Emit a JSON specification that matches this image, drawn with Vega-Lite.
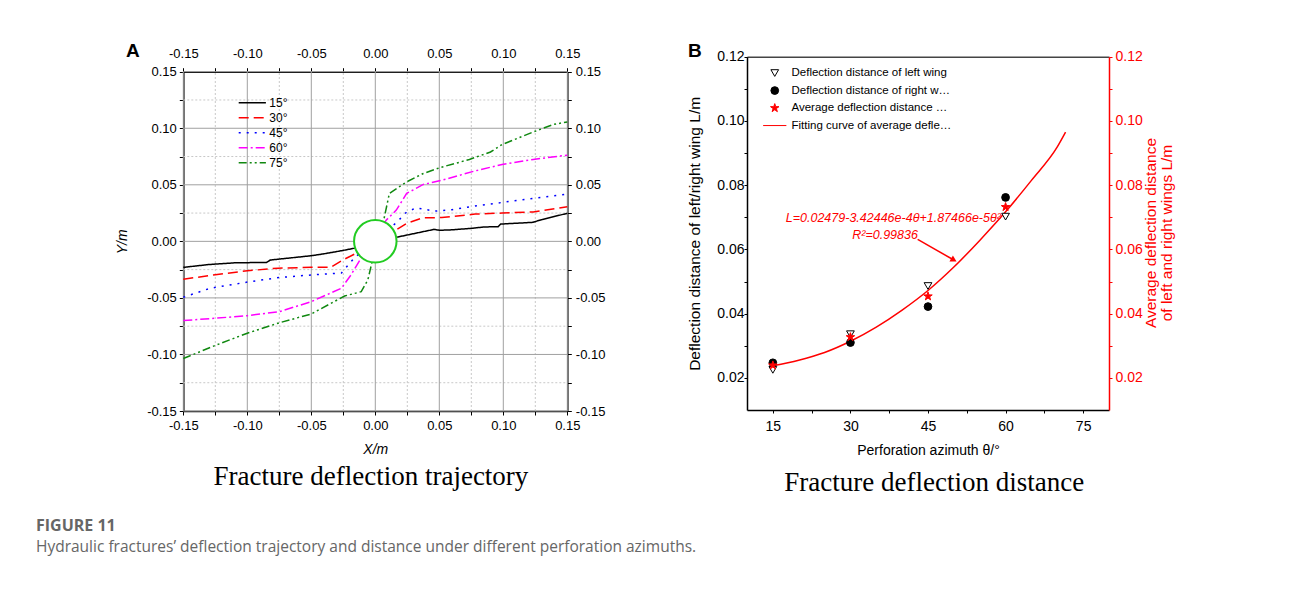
{
 "$schema": "https://vega.github.io/schema/vega-lite/v6.json",
 "background": "white",
 "width": 1290,
 "height": 592,
 "padding": 0,
 "autosize": {"type": "none"},
 "config": {
  "font": "Liberation Sans",
  "view": {"stroke": null},
  "axis": {"labelFont": "Liberation Sans", "titleFont": "Liberation Sans", "labelColor": "black", "titleColor": "black", "titleFontWeight": "normal", "labelFlush": false, "labelOverlap": false},
  "legend": {"labelFont": "Liberation Sans", "labelColor": "black"}
 },
 "datasets": {
  "gridA": [
   {"v": -0.15, "kind": "major"}, {"v": -0.125, "kind": "minor"}, {"v": -0.1, "kind": "major"}, {"v": -0.075, "kind": "minor"}, {"v": -0.05, "kind": "major"}, {"v": -0.025, "kind": "minor"}, {"v": 0, "kind": "major"}, {"v": 0.025, "kind": "minor"}, {"v": 0.05, "kind": "major"}, {"v": 0.075, "kind": "minor"}, {"v": 0.1, "kind": "major"}, {"v": 0.125, "kind": "minor"}, {"v": 0.15, "kind": "major"}
  ]
 },
 "layer": [
  {
   "layer": [
    {
     "data": {"name": "gridA"},
     "transform": [{"filter": {"field": "kind", "equal": "minor"}}],
     "mark": {"type": "rule", "color": "#c8c8c8", "strokeWidth": 1, "strokeDash": [2, 2]},
     "encoding": {
      "x": {"field": "v", "type": "quantitative", "scale": {"domain": [-0.15, 0.15], "range": [183.3, 567.3], "nice": false, "zero": false}, "axis": null},
      "y": {"datum": -0.15, "type": "quantitative", "scale": {"domain": [-0.15, 0.15], "range": [411, 71.7], "nice": false, "zero": false}, "axis": null},
      "y2": {"datum": 0.15}
     }
    },
    {
     "data": {"name": "gridA"},
     "transform": [{"filter": {"field": "kind", "equal": "minor"}}],
     "mark": {"type": "rule", "color": "#c8c8c8", "strokeWidth": 1, "strokeDash": [2, 2]},
     "encoding": {
      "y": {"field": "v", "type": "quantitative", "axis": null},
      "x": {"datum": -0.15, "type": "quantitative", "axis": null},
      "x2": {"datum": 0.15}
     }
    },
    {
     "data": {"name": "gridA"},
     "transform": [{"filter": {"field": "kind", "equal": "major"}}],
     "mark": {"type": "rule", "color": "#a0a0a0", "strokeWidth": 1},
     "encoding": {
      "x": {"field": "v", "type": "quantitative", "axis": null},
      "y": {"datum": -0.15, "type": "quantitative", "axis": null},
      "y2": {"datum": 0.15}
     }
    },
    {
     "data": {"name": "gridA"},
     "transform": [{"filter": {"field": "kind", "equal": "major"}}],
     "mark": {"type": "rule", "color": "#a0a0a0", "strokeWidth": 1},
     "encoding": {
      "y": {"field": "v", "type": "quantitative", "axis": null},
      "x": {"datum": -0.15, "type": "quantitative", "axis": null},
      "x2": {"datum": 0.15}
     }
    },
    {
     "data": {"values": [
      {"x": -0.15, "y": -0.023, "angle": "15°"}, {"x": -0.13, "y": -0.0205, "angle": "15°"}, {"x": -0.11, "y": -0.019, "angle": "15°"}, {"x": -0.085, "y": -0.0186, "angle": "15°"}, {"x": -0.082, "y": -0.0165, "angle": "15°"}, {"x": -0.065, "y": -0.0145, "angle": "15°"}, {"x": -0.05, "y": -0.0127, "angle": "15°"}, {"x": -0.04, "y": -0.011, "angle": "15°"}, {"x": -0.025, "y": -0.008, "angle": "15°"}, {"x": -0.013, "y": -0.0053, "angle": "15°"}, {"x": 0.016, "y": 0.0035, "angle": "15°"}, {"x": 0.03, "y": 0.0068, "angle": "15°"}, {"x": 0.046, "y": 0.0106, "angle": "15°"}, {"x": 0.05, "y": 0.0098, "angle": "15°"}, {"x": 0.06, "y": 0.0102, "angle": "15°"}, {"x": 0.075, "y": 0.0115, "angle": "15°"}, {"x": 0.085, "y": 0.0127, "angle": "15°"}, {"x": 0.096, "y": 0.013, "angle": "15°"}, {"x": 0.098, "y": 0.0153, "angle": "15°"}, {"x": 0.11, "y": 0.016, "angle": "15°"}, {"x": 0.123, "y": 0.0168, "angle": "15°"}, {"x": 0.13, "y": 0.0192, "angle": "15°"}, {"x": 0.15, "y": 0.0248, "angle": "15°"},
      {"x": -0.15, "y": -0.0335, "angle": "30°"}, {"x": -0.125, "y": -0.0295, "angle": "30°"}, {"x": -0.1, "y": -0.026, "angle": "30°"}, {"x": -0.076, "y": -0.0237, "angle": "30°"}, {"x": -0.05, "y": -0.023, "angle": "30°"}, {"x": -0.035, "y": -0.023, "angle": "30°"}, {"x": -0.0245, "y": -0.016, "angle": "30°"}, {"x": -0.014, "y": -0.01, "angle": "30°"}, {"x": 0.016, "y": 0.01, "angle": "30°"}, {"x": 0.0245, "y": 0.0159, "angle": "30°"}, {"x": 0.0375, "y": 0.0209, "angle": "30°"}, {"x": 0.052, "y": 0.021, "angle": "30°"}, {"x": 0.078, "y": 0.0241, "angle": "30°"}, {"x": 0.099, "y": 0.025, "angle": "30°"}, {"x": 0.1234, "y": 0.026, "angle": "30°"}, {"x": 0.15, "y": 0.0305, "angle": "30°"},
      {"x": -0.15, "y": -0.0494, "angle": "45°"}, {"x": -0.129, "y": -0.0415, "angle": "45°"}, {"x": -0.1, "y": -0.036, "angle": "45°"}, {"x": -0.075, "y": -0.032, "angle": "45°"}, {"x": -0.05, "y": -0.0297, "angle": "45°"}, {"x": -0.0265, "y": -0.028, "angle": "45°"}, {"x": -0.0156, "y": -0.0136, "angle": "45°"}, {"x": -0.008, "y": -0.0075, "angle": "45°"}, {"x": 0.008, "y": 0.0095, "angle": "45°"}, {"x": 0.016, "y": 0.016, "angle": "45°"}, {"x": 0.0245, "y": 0.026, "angle": "45°"}, {"x": 0.032, "y": 0.0296, "angle": "45°"}, {"x": 0.0465, "y": 0.0267, "angle": "45°"}, {"x": 0.06, "y": 0.028, "angle": "45°"}, {"x": 0.0735, "y": 0.0305, "angle": "45°"}, {"x": 0.099, "y": 0.0344, "angle": "45°"}, {"x": 0.1234, "y": 0.038, "angle": "45°"}, {"x": 0.15, "y": 0.0417, "angle": "45°"},
      {"x": -0.15, "y": -0.07, "angle": "60°"}, {"x": -0.125, "y": -0.068, "angle": "60°"}, {"x": -0.1, "y": -0.0657, "angle": "60°"}, {"x": -0.075, "y": -0.0622, "angle": "60°"}, {"x": -0.05, "y": -0.0533, "angle": "60°"}, {"x": -0.0265, "y": -0.0415, "angle": "60°"}, {"x": -0.019, "y": -0.0297, "angle": "60°"}, {"x": -0.0112, "y": -0.015, "angle": "60°"}, {"x": 0.0086, "y": 0.0188, "angle": "60°"}, {"x": 0.0164, "y": 0.0276, "angle": "60°"}, {"x": 0.0245, "y": 0.0424, "angle": "60°"}, {"x": 0.0375, "y": 0.0503, "angle": "60°"}, {"x": 0.052, "y": 0.054, "angle": "60°"}, {"x": 0.078, "y": 0.0623, "angle": "60°"}, {"x": 0.099, "y": 0.068, "angle": "60°"}, {"x": 0.1234, "y": 0.0724, "angle": "60°"}, {"x": 0.15, "y": 0.0762, "angle": "60°"},
      {"x": -0.15, "y": -0.1036, "angle": "75°"}, {"x": -0.125, "y": -0.092, "angle": "75°"}, {"x": -0.1, "y": -0.0812, "angle": "75°"}, {"x": -0.075, "y": -0.072, "angle": "75°"}, {"x": -0.05, "y": -0.0642, "angle": "75°"}, {"x": -0.024, "y": -0.0483, "angle": "75°"}, {"x": -0.011, "y": -0.0445, "angle": "75°"}, {"x": -0.0058, "y": -0.034, "angle": "75°"}, {"x": -0.0027, "y": -0.019, "angle": "75°"}, {"x": 0.0066, "y": 0.0188, "angle": "75°"}, {"x": 0.011, "y": 0.0424, "angle": "75°"}, {"x": 0.0245, "y": 0.0526, "angle": "75°"}, {"x": 0.0375, "y": 0.06, "angle": "75°"}, {"x": 0.05, "y": 0.065, "angle": "75°"}, {"x": 0.0735, "y": 0.0724, "angle": "75°"}, {"x": 0.09, "y": 0.079, "angle": "75°"}, {"x": 0.099, "y": 0.0856, "angle": "75°"}, {"x": 0.1234, "y": 0.0967, "angle": "75°"}, {"x": 0.139, "y": 0.1033, "angle": "75°"}, {"x": 0.15, "y": 0.1056, "angle": "75°"}
     ]},
     "mark": {"type": "line", "strokeWidth": 1.5},
     "encoding": {
      "x": {"field": "x", "type": "quantitative",
       "axis": {"orient": "bottom", "offset": -181, "values": [-0.15, -0.125, -0.1, -0.075, -0.05, -0.025, 0, 0.025, 0.05, 0.075, 0.1, 0.125, 0.15],
        "labelExpr": "abs(round(datum.value*40))%2==1 ? '' : replace(format(datum.value,'.2f'),'\u2212','-')",
        "title": "X/m", "titleFontSize": 14, "titleFontStyle": "italic", "titlePadding": 10, "labelFontSize": 13, "labelPadding": 4, "grid": false,
        "domainColor": "black", "domainWidth": 1.5, "tickColor": "black", "tickSize": 4, "tickWidth": 1}},
      "y": {"field": "y", "type": "quantitative",
       "axis": {"orient": "left", "offset": -183.3, "values": [-0.15, -0.125, -0.1, -0.075, -0.05, -0.025, 0, 0.025, 0.05, 0.075, 0.1, 0.125, 0.15],
        "labelExpr": "abs(round(datum.value*40))%2==1 ? '' : replace(format(datum.value,'.2f'),'\u2212','-')",
        "title": "Y/m", "titleFontSize": 14, "titleFontStyle": "italic", "titlePadding": 17, "labelFontSize": 13, "labelPadding": 3, "grid": false,
        "domainColor": "black", "domainWidth": 1.5, "tickColor": "black", "tickSize": 4, "tickWidth": 1}},
      "color": {"field": "angle", "type": "nominal",
       "scale": {"domain": ["15°", "30°", "45°", "60°", "75°"], "range": ["#000000", "#ff0000", "#0000ff", "#ff00ff", "#108810"]},
       "legend": {"orient": "none", "legendX": 243.3, "legendY": 93.7, "title": null, "padding": 0, "rowPadding": 0, "labelFontSize": 12, "labelOffset": 8, "symbolType": "M-1.7,0H1.7", "symbolSize": 256, "symbolStrokeWidth": 1.5}},
      "strokeDash": {"field": "angle", "type": "nominal",
       "scale": {"domain": ["15°", "30°", "45°", "60°", "75°"], "range": [[1, 0], [10, 5], [2, 6], [9, 3, 2, 3], [8, 3, 2, 3, 2, 3]]},
       "legend": {"orient": "none", "legendX": 243.3, "legendY": 93.7, "title": null, "padding": 0, "rowPadding": 0, "labelFontSize": 12, "labelOffset": 8, "symbolType": "M-1.7,0H1.7", "symbolSize": 256, "symbolStrokeWidth": 1.5}}
     }
    },
    {
     "data": {"values": [{"x": 0, "y": 0}]},
     "mark": {"type": "point", "shape": "circle", "size": 1806, "filled": true, "fill": "white", "stroke": "#22cc22", "strokeWidth": 2, "opacity": 1},
     "encoding": {
      "x": {"field": "x", "type": "quantitative",
       "axis": {"orient": "top", "offset": -71.7, "values": [-0.15, -0.125, -0.1, -0.075, -0.05, -0.025, 0, 0.025, 0.05, 0.075, 0.1, 0.125, 0.15],
        "labelExpr": "abs(round(datum.value*40))%2==1 ? '' : replace(format(datum.value,'.2f'),'\u2212','-')",
        "title": null, "labelFontSize": 13, "labelPadding": 7, "grid": false,
        "domainColor": "black", "domainWidth": 1.5, "tickColor": "black", "tickSize": 4, "tickWidth": 1}},
      "y": {"field": "y", "type": "quantitative",
       "axis": {"orient": "right", "offset": -722.7, "values": [-0.15, -0.125, -0.1, -0.075, -0.05, -0.025, 0, 0.025, 0.05, 0.075, 0.1, 0.125, 0.15],
        "labelExpr": "abs(round(datum.value*40))%2==1 ? '' : replace(format(datum.value,'.2f'),'\u2212','-')",
        "title": null, "labelFontSize": 13, "labelPadding": 4, "grid": false,
        "domainColor": "black", "domainWidth": 1.5, "tickColor": "black", "tickSize": 4, "tickWidth": 1}}
     }
    },
    {
     "data": {"values": [{"label": "A", "x": -0.1895, "y": 0.163}]},
     "mark": {"type": "text", "fontSize": 19, "fontWeight": "bold", "align": "center", "baseline": "alphabetic", "color": "black"},
     "encoding": {
      "x": {"field": "x", "type": "quantitative", "axis": null},
      "y": {"field": "y", "type": "quantitative", "axis": null},
      "text": {"field": "label"}
     }
    },
    {
     "data": {"values": [{"label": "Fracture deflection trajectory", "x": -0.0034, "y": -0.2151}]},
     "mark": {"type": "text", "font": "Liberation Serif", "fontSize": 27, "align": "center", "baseline": "alphabetic", "color": "black"},
     "encoding": {
      "x": {"field": "x", "type": "quantitative", "axis": null},
      "y": {"field": "y", "type": "quantitative", "axis": null},
      "text": {"field": "label"}
     }
    },
    {
     "data": {"values": [{"label": "FIGURE 11", "x": -0.2651, "y": -0.2563}]},
     "mark": {"type": "text", "font": "Open Sans", "fontSize": 16, "fontWeight": "bold", "align": "left", "baseline": "alphabetic", "color": "#666666"},
     "encoding": {
      "x": {"field": "x", "type": "quantitative", "axis": null},
      "y": {"field": "y", "type": "quantitative", "axis": null},
      "text": {"field": "label"}
     }
    },
    {
     "data": {"values": [{"label": "Hydraulic fractures’ deflection trajectory and distance under different perforation azimuths.", "x": -0.2651, "y": -0.2743}]},
     "mark": {"type": "text", "font": "Open Sans", "fontSize": 15.5, "align": "left", "baseline": "alphabetic", "color": "#666666"},
     "encoding": {
      "x": {"field": "x", "type": "quantitative", "axis": null},
      "y": {"field": "y", "type": "quantitative", "axis": null},
      "text": {"field": "label"}
     }
    }
   ],
   "resolve": {"axis": {"x": "independent", "y": "independent"}}
  },
  {
   "layer": [
    {
     "data": {"values": [
      {"theta": 15, "L": 0.0238, "series": "Fitting curve of average deflection distance of left and right wings"},
      {"theta": 20, "L": 0.0255, "series": "Fitting curve of average deflection distance of left and right wings"},
      {"theta": 25, "L": 0.0279, "series": "Fitting curve of average deflection distance of left and right wings"},
      {"theta": 30, "L": 0.0314, "series": "Fitting curve of average deflection distance of left and right wings"},
      {"theta": 35, "L": 0.0358, "series": "Fitting curve of average deflection distance of left and right wings"},
      {"theta": 40, "L": 0.0411, "series": "Fitting curve of average deflection distance of left and right wings"},
      {"theta": 45, "L": 0.0472, "series": "Fitting curve of average deflection distance of left and right wings"},
      {"theta": 50, "L": 0.0545, "series": "Fitting curve of average deflection distance of left and right wings"},
      {"theta": 55, "L": 0.0628, "series": "Fitting curve of average deflection distance of left and right wings"},
      {"theta": 60, "L": 0.0717, "series": "Fitting curve of average deflection distance of left and right wings"},
      {"theta": 65, "L": 0.0815, "series": "Fitting curve of average deflection distance of left and right wings"},
      {"theta": 70, "L": 0.0919, "series": "Fitting curve of average deflection distance of left and right wings"},
      {"theta": 71.6, "L": 0.0965, "series": "Fitting curve of average deflection distance of left and right wings"}
     ]},
     "mark": {"type": "line", "strokeWidth": 1.5, "interpolate": "monotone"},
     "encoding": {
      "x": {"field": "theta", "type": "quantitative", "scale": {"domain": [10, 80], "range": [747, 1109], "nice": false, "zero": false}, "axis": null},
      "y": {"field": "L", "type": "quantitative", "scale": {"domain": [0.01, 0.12], "range": [410, 56.7], "nice": false, "zero": false},
       "axis": {"orient": "right", "offset": -181, "values": [0.02, 0.03, 0.04, 0.05, 0.06, 0.07, 0.08, 0.09, 0.1, 0.11, 0.12],
        "labelExpr": "round(datum.value*100)%2==0 ? format(datum.value,'.2f') : ''",
        "title": null,
        "labelFontSize": 14, "labelColor": "#ff0000", "labelPadding": 3, "grid": false,
        "domainColor": "#ff0000", "domainWidth": 1.5, "tickColor": "#ff0000", "tickSize": 3, "tickWidth": 1}},
      "stroke": {"field": "series", "type": "nominal",
       "scale": {"domain": ["Deflection distance of left wing", "Deflection distance of right wing", "Average deflection distance of left and right wings", "Fitting curve of average deflection distance of left and right wings"], "range": ["black", "black", "#ff0000", "#ff0000"]},
       "legend": {"orient": "none", "legendX": 769, "legendY": 67.3, "title": null, "padding": 0, "rowPadding": 4.5, "labelFontSize": 11.5, "labelOffset": 11, "symbolSize": 60, "symbolStrokeWidth": 1, "symbolOpacity": 1}}
     }
    },
    {
     "data": {"values": [
      {"theta": 15, "L": 0.0225, "series": "Deflection distance of left wing"},
      {"theta": 30, "L": 0.0336, "series": "Deflection distance of left wing"},
      {"theta": 45, "L": 0.0486, "series": "Deflection distance of left wing"},
      {"theta": 60, "L": 0.0702, "series": "Deflection distance of left wing"},
      {"theta": 15, "L": 0.0247, "series": "Deflection distance of right wing"},
      {"theta": 30, "L": 0.031, "series": "Deflection distance of right wing"},
      {"theta": 45, "L": 0.0422, "series": "Deflection distance of right wing"},
      {"theta": 60, "L": 0.0762, "series": "Deflection distance of right wing"},
      {"theta": 15, "L": 0.0239, "series": "Average deflection distance of left and right wings"},
      {"theta": 30, "L": 0.0327, "series": "Average deflection distance of left and right wings"},
      {"theta": 45, "L": 0.0454, "series": "Average deflection distance of left and right wings"},
      {"theta": 60, "L": 0.0732, "series": "Average deflection distance of left and right wings"}
     ]},
     "mark": {"type": "point", "size": 60, "strokeWidth": 1, "opacity": 1},
     "encoding": {
      "x": {"field": "theta", "type": "quantitative",
       "axis": {"orient": "bottom", "offset": -182, "values": [15, 22.5, 30, 37.5, 45, 52.5, 60, 67.5, 75],
        "labelExpr": "datum.value%15==0 ? format(datum.value,'d') : ''",
        "title": "Perforation azimuth θ/°", "titleFontSize": 14, "titlePadding": 10, "labelFontSize": 14, "labelPadding": 6, "grid": false,
        "domainColor": "black", "domainWidth": 1.5, "tickColor": "black", "tickSize": 3, "tickWidth": 1}},
      "y": {"field": "L", "type": "quantitative",
       "axis": {"orient": "left", "offset": -747, "values": [0.02, 0.03, 0.04, 0.05, 0.06, 0.07, 0.08, 0.09, 0.1, 0.11, 0.12],
        "labelExpr": "round(datum.value*100)%2==0 ? format(datum.value,'.2f') : ''",
        "title": "Deflection distance of left/right wing L/m", "titleFontSize": 15.5, "titlePadding": 14,
        "labelFontSize": 14, "labelPadding": 0, "grid": false,
        "domainColor": "black", "domainWidth": 1.5, "tickColor": "black", "tickSize": 3, "tickWidth": 1}},
      "shape": {"field": "series", "type": "nominal",
       "scale": {"domain": ["Deflection distance of left wing", "Deflection distance of right wing", "Average deflection distance of left and right wings", "Fitting curve of average deflection distance of left and right wings"], "range": ["triangle-down", "circle", "M0,-1.15L0.26,-0.36L1.09,-0.36L0.42,0.14L0.68,0.93L0,0.44L-0.68,0.93L-0.42,0.14L-1.09,-0.36L-0.26,-0.36Z", "M-3,0H3"]},
       "legend": {"orient": "none", "legendX": 769, "legendY": 67.3, "title": null, "padding": 0, "rowPadding": 4.5, "labelFontSize": 11.5, "labelOffset": 11, "symbolSize": 60, "symbolStrokeWidth": 1, "symbolOpacity": 1}},
      "fill": {"field": "series", "type": "nominal",
       "scale": {"domain": ["Deflection distance of left wing", "Deflection distance of right wing", "Average deflection distance of left and right wings", "Fitting curve of average deflection distance of left and right wings"], "range": ["white", "black", "#ff0000", "transparent"]},
       "legend": {"orient": "none", "legendX": 769, "legendY": 67.3, "title": null, "padding": 0, "rowPadding": 4.5, "labelFontSize": 11.5, "labelOffset": 11, "symbolSize": 60, "symbolStrokeWidth": 1, "symbolOpacity": 1}},
      "stroke": {"field": "series", "type": "nominal",
       "legend": {"orient": "none", "legendX": 769, "legendY": 67.3, "title": null, "padding": 0, "rowPadding": 4.5, "labelFontSize": 11.5, "labelOffset": 11, "symbolSize": 60, "symbolStrokeWidth": 1, "symbolOpacity": 1}}
     }
    },
    {
     "data": {"values": [{"label": "L=0.02479-3.42446e-4θ+1.87466e-5θ²", "theta": 38.3, "L": 0.0697}, {"label": "R²=0.99836", "theta": 36.7, "L": 0.0645}]},
     "mark": {"type": "text", "fontSize": 12.5, "fontStyle": "italic", "color": "#ff0000", "align": "center", "baseline": "middle"},
     "encoding": {
      "x": {"field": "theta", "type": "quantitative",
       "axis": {"orient": "top", "offset": -56.7, "labels": false, "ticks": false, "title": null, "grid": false, "domainColor": "#444444", "domainWidth": 1.5}},
      "y": {"field": "L", "type": "quantitative", "axis": null},
      "text": {"field": "label"}
     }
    },
    {
     "data": {"values": [{"label": "Average deflection distance", "theta": 88.05, "L": 0.0651}, {"label": "of left and right wings L/m", "theta": 91.2, "L": 0.0651}]},
     "mark": {"type": "text", "fontSize": 15.5, "angle": 270, "color": "#ff0000", "align": "center", "baseline": "middle"},
     "encoding": {
      "x": {"field": "theta", "type": "quantitative", "axis": null},
      "y": {"field": "L", "type": "quantitative", "axis": null},
      "text": {"field": "label"}
     }
    },
    {
     "data": {"values": [{"label": "Fracture deflection distance", "theta": 46.2, "L": -0.0152}]},
     "mark": {"type": "text", "font": "Liberation Serif", "fontSize": 27, "align": "center", "baseline": "alphabetic", "color": "black"},
     "encoding": {
      "x": {"field": "theta", "type": "quantitative", "axis": null},
      "y": {"field": "L", "type": "quantitative", "axis": null},
      "text": {"field": "label"}
     }
    },
    {
     "data": {"values": [{"theta": 43.0, "L": 0.0631, "theta2": 50.0, "L2": 0.0567}]},
     "mark": {"type": "rule", "color": "#ff0000", "strokeWidth": 1.5},
     "encoding": {
      "x": {"field": "theta", "type": "quantitative", "axis": null},
      "y": {"field": "L", "type": "quantitative", "axis": null},
      "x2": {"field": "theta2"},
      "y2": {"field": "L2"}
     }
    },
    {
     "data": {"values": [{"theta": 50.0, "L": 0.0567}]},
     "mark": {"type": "point", "shape": "triangle-right", "angle": 29, "size": 50, "filled": true, "color": "#ff0000", "opacity": 1},
     "encoding": {
      "x": {"field": "theta", "type": "quantitative", "axis": null},
      "y": {"field": "L", "type": "quantitative", "axis": null}
     }
    },
    {
     "data": {"values": [{"label": "B", "theta": -0.1, "L": 0.12}]},
     "mark": {"type": "text", "fontSize": 19, "fontWeight": "bold", "align": "center", "baseline": "alphabetic", "color": "black"},
     "encoding": {
      "x": {"field": "theta", "type": "quantitative", "axis": null},
      "y": {"field": "L", "type": "quantitative", "axis": null},
      "text": {"field": "label"}
     }
    }
   ],
   "resolve": {"axis": {"x": "independent", "y": "independent"}}
  }
 ],
 "resolve": {"scale": {"x": "independent", "y": "independent"}, "axis": {"x": "independent", "y": "independent"}}
}
